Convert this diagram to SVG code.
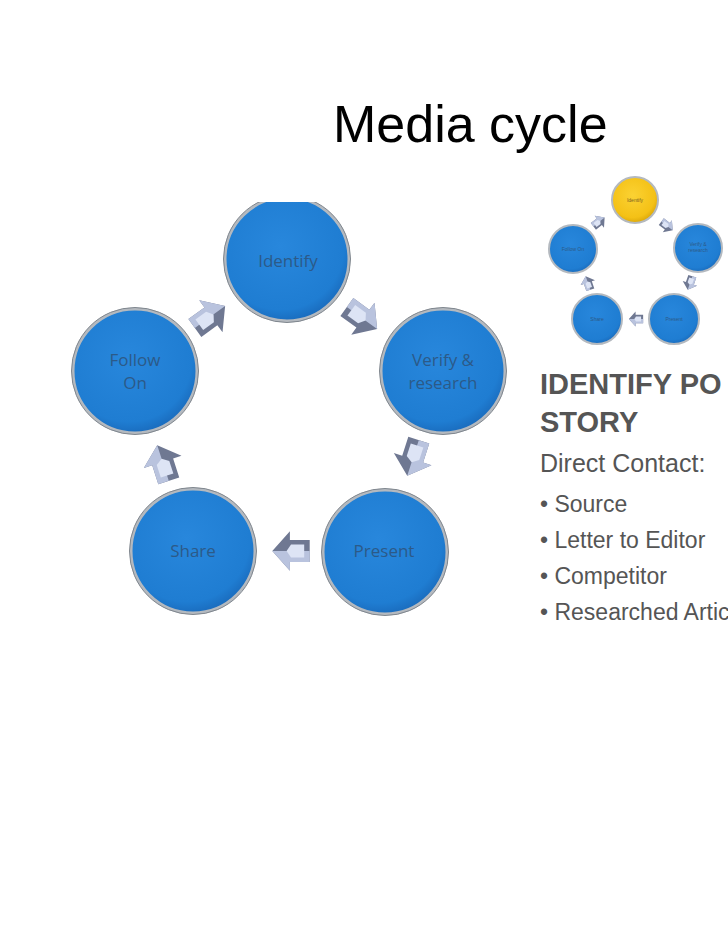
<svg xmlns="http://www.w3.org/2000/svg" xmlns:xlink="http://www.w3.org/1999/xlink" width="728" height="943" viewBox="0 0 728 943">
<style>
.lbl{font-family:"Open Sans","Lato","Liberation Sans",sans-serif;font-size:17px;fill:#2c5a88;text-anchor:middle}
.tl{font-family:"Liberation Sans",Arial,sans-serif;font-size:5px;fill:#2c5a88;text-anchor:middle}
.title{font-family:"Liberation Sans",Arial,sans-serif;font-size:52px;fill:#000}
.hd{font-family:"Liberation Sans",Arial,sans-serif;font-size:29px;font-weight:bold;fill:#555}
.bd{font-family:"Liberation Sans",Arial,sans-serif;fill:#555}
.rim{stroke:#b4b9bf;stroke-width:3}
.rim2{fill:none;stroke:#7f868e;stroke-width:1}
</style>
<defs>
<radialGradient id="blue" cx="45%" cy="40%" r="60%">
<stop offset="0" stop-color="#2887dc"/>
<stop offset="0.85" stop-color="#1f7dd2"/>
<stop offset="1" stop-color="#1a6dbf"/>
</radialGradient>
<radialGradient id="yel" cx="45%" cy="40%" r="60%">
<stop offset="0" stop-color="#fbd233"/>
<stop offset="0.8" stop-color="#f4c116"/>
<stop offset="1" stop-color="#dca80a"/>
</radialGradient>
<g id="arr">
<polygon points="-17,-10 1,-10 1,-18 17,0 1,18 1,10 -17,10" fill="#6f7892"/>
<polygon points="-17,-10 1,-10 1,-18 17,0 1,0 -17,0" fill="#b9c3de"/>
<polygon points="-12,-6 0,-6 4,0 0,6 -12,6" fill="#dde4f5"/>
</g>
<clipPath id="topclip"><rect x="0" y="202" width="728" height="741"/></clipPath>
</defs>
<rect width="728" height="943" fill="#fff"/>
<text class="title" x="333" y="142">Media cycle</text>

<g id="connectors">
<use xlink:href="#arr" transform="translate(210,317) rotate(-36) scale(1.1)"/>
<use xlink:href="#arr" transform="translate(362,318) rotate(36) scale(1.1)"/>
<use xlink:href="#arr" transform="translate(413,458) rotate(108) scale(1.1)"/>
<use xlink:href="#arr" transform="translate(291,551) rotate(180) scale(1.1)"/>
<use xlink:href="#arr" transform="translate(163,463) rotate(-108) scale(1.1)"/>
</g>

<g id="identify" clip-path="url(#topclip)">
<circle cx="287" cy="259" r="62" fill="url(#blue)" class="rim"/>
<circle cx="287" cy="259" r="63.5" class="rim2"/>
<text class="lbl" x="288" y="267">Identify</text>
</g>
<g id="verify">
<circle cx="443" cy="371" r="62" fill="url(#blue)" class="rim"/>
<circle cx="443" cy="371" r="63.5" class="rim2"/>
<text class="lbl" x="443" y="366">Verify &amp;</text>
<text class="lbl" x="443" y="389">research</text>
</g>
<g id="present">
<circle cx="385" cy="552" r="62" fill="url(#blue)" class="rim"/>
<circle cx="385" cy="552" r="63.5" class="rim2"/>
<text class="lbl" x="384" y="557">Present</text>
</g>
<g id="share">
<circle cx="193" cy="551" r="62" fill="url(#blue)" class="rim"/>
<circle cx="193" cy="551" r="63.5" class="rim2"/>
<text class="lbl" x="193" y="557">Share</text>
</g>
<g id="follow-on">
<circle cx="135" cy="371" r="62" fill="url(#blue)" class="rim"/>
<circle cx="135" cy="371" r="63.5" class="rim2"/>
<text class="lbl" x="135" y="366">Follow</text>
<text class="lbl" x="135" y="389">On</text>
</g>

<g id="thumbnail">
<g id="thumb-connectors">
<use xlink:href="#arr" transform="translate(599,222) rotate(-38) scale(0.42)"/>
<use xlink:href="#arr" transform="translate(667,226) rotate(37) scale(0.42)"/>
<use xlink:href="#arr" transform="translate(690,283) rotate(109) scale(0.42)"/>
<use xlink:href="#arr" transform="translate(636,319) rotate(180) scale(0.42)"/>
<use xlink:href="#arr" transform="translate(588,283) rotate(-109) scale(0.42)"/>
</g>
<g id="t-identify">
<circle cx="635" cy="200" r="23" fill="url(#yel)" stroke="#b4b9bf" stroke-width="2"/>
<text class="tl" x="635" y="202" style="fill:#7a6420">Identify</text>
</g>
<g id="t-verify">
<circle cx="698" cy="248" r="24" fill="url(#blue)" stroke="#b4b9bf" stroke-width="2"/>
<text class="tl" x="698" y="246">Verify &amp;</text>
<text class="tl" x="698" y="252">research</text>
</g>
<g id="t-present">
<circle cx="674" cy="319" r="25" fill="url(#blue)" stroke="#b4b9bf" stroke-width="2"/>
<text class="tl" x="674" y="321">Present</text>
</g>
<g id="t-share">
<circle cx="597" cy="319" r="25" fill="url(#blue)" stroke="#b4b9bf" stroke-width="2"/>
<text class="tl" x="597" y="321">Share</text>
</g>
<g id="t-follow">
<circle cx="573" cy="249" r="24" fill="url(#blue)" stroke="#b4b9bf" stroke-width="2"/>
<text class="tl" x="573" y="251">Follow On</text>
</g>
</g>

<g id="text-panel">
<text class="hd" x="540" y="394">IDENTIFY PO</text>
<text class="hd" x="540" y="432">STORY</text>
<text class="bd" x="540" y="472" font-size="25">Direct Contact:</text>
<text class="bd" x="540" y="512" font-size="23">• Source</text>
<text class="bd" x="540" y="548" font-size="23">• Letter to Editor</text>
<text class="bd" x="540" y="584" font-size="23">• Competitor</text>
<text class="bd" x="540" y="620" font-size="23">• Researched Artic</text>
</g>
</svg>
